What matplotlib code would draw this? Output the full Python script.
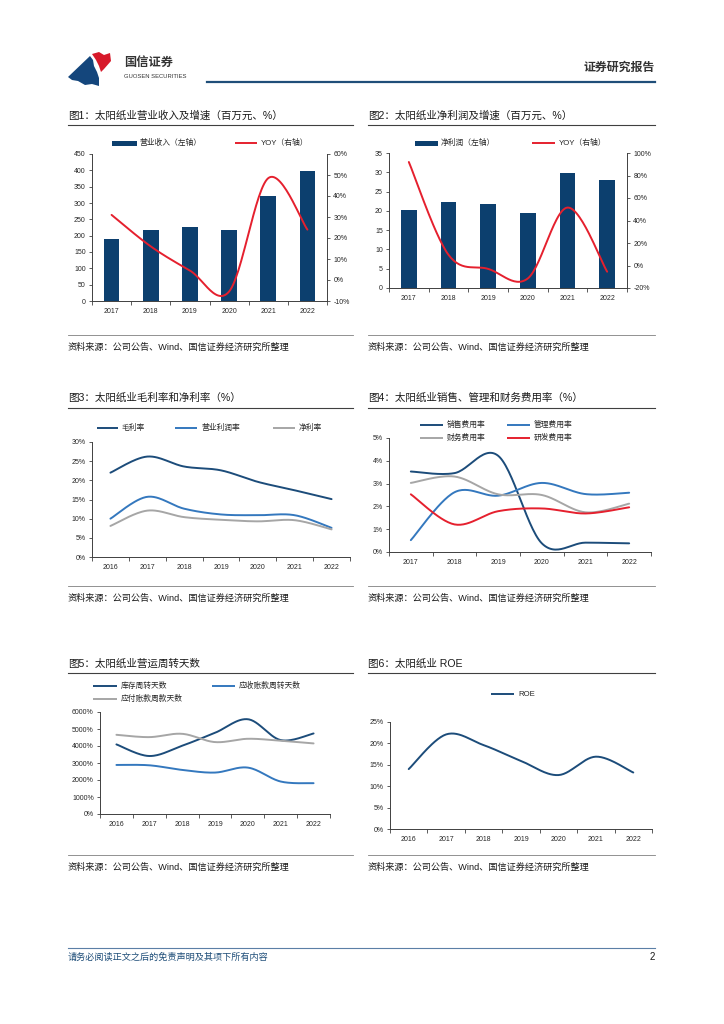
import matplotlib.pyplot as plt
import numpy as np
from matplotlib.patches import Polygon, Rectangle

plt.rcParams['font.family'] = ['Liberation Sans', 'Noto Sans CJK SC', 'DejaVu Sans']

# ---- data ----
years_6 = ['2017', '2018', '2019', '2020', '2021', '2022']
years_7 = ['2016', '2017', '2018', '2019', '2020', '2021', '2022']

revenue = [190, 218, 228, 216, 320, 398]          # 百万元
revenue_yoy = [31, 16, 4.5, -5.5, 48.5, 24]       # %
net_profit = [20.2, 22.2, 21.8, 19.4, 29.7, 28.1]
net_profit_yoy = [92, 9.5, -3, -11.5, 51.5, -5.5]

gross_margin = [22.0, 26.2, 23.6, 22.6, 19.6, 17.4, 15.1]
op_margin = [10.0, 15.7, 12.6, 11.1, 10.9, 10.9, 7.6]
net_margin = [8.1, 12.1, 10.4, 9.7, 9.3, 9.6, 7.2]

sales_exp = [3.53, 3.46, 4.22, 0.38, 0.41, 0.38]
admin_exp = [0.52, 2.62, 2.47, 3.03, 2.54, 2.60]
fin_exp = [3.03, 3.31, 2.53, 2.50, 1.74, 2.12]
rd_exp = [2.53, 1.21, 1.79, 1.91, 1.69, 1.96]

inventory_days = [4094, 3411, 4016, 4776, 5575, 4347, 4737]
receivable_days = [2885, 2865, 2593, 2437, 2729, 1910, 1813]
payable_days = [4659, 4522, 4717, 4230, 4425, 4308, 4152]

roe = [14.0, 22.1, 19.6, 15.9, 12.6, 16.9, 13.2]

SOURCE = '资料来源：公司公告、Wind、国信证券经济研究所整理'

# colours
NAVY = '#1C4C7A'
BLUE = '#3478BE'
GRAY = '#A6A6A6'
RED = '#E5202E'
BAR = '#0C3F6E'
TXT = '#262626'
AX = '#404040'

W, H = 724, 1024
fig = plt.figure(figsize=(W / 100, H / 100), dpi=100, facecolor='white')


def place(l, t, r, b):
    return fig.add_axes([l / W, 1 - b / H, (r - l) / W, (b - t) / H])


def smooth(y, n=30):
    # Excel-like smoothed line (bezier through the points)
    y = np.asarray(y, float)
    x = np.arange(len(y), dtype=float)
    xs, ys = [], []
    t = np.linspace(0, 1, n)
    for i in range(len(y) - 1):
        i0 = max(i - 1, 0)
        i3 = min(i + 2, len(y) - 1)
        p0, p1, p2, p3 = [np.array([x[k], y[k]]) for k in (i0, i, i + 1, i3)]
        c1 = p1 + (p2 - p0) / 6
        c2 = p2 - (p3 - p1) / 6
        pts = ((1 - t) ** 3)[:, None] * p1 + (3 * (1 - t) ** 2 * t)[:, None] * c1 \
            + (3 * (1 - t) * t ** 2)[:, None] * c2 + (t ** 3)[:, None] * p2
        xs.extend(pts[:, 0])
        ys.extend(pts[:, 1])
    return np.array(xs), np.array(ys)


def style(ax, labels, ylim, yticks, fmt):
    n = len(labels)
    ax.set_facecolor('none')
    ax.set_xlim(-0.5, n - 0.5)
    ax.set_xticks(range(n))
    ax.set_xticklabels(labels)
    ax.set_xticks(np.arange(-0.5, n), minor=True)
    ax.tick_params(axis='x', which='major', length=0, pad=5, labelsize=5, labelcolor=TXT)
    ax.tick_params(axis='x', which='minor', length=3, width=0.6, color=AX)
    ax.set_ylim(*ylim)
    ax.set_yticks(yticks)
    ax.set_yticklabels([fmt.format(v) for v in yticks])
    ax.tick_params(axis='y', length=2.5, width=0.6, pad=2, labelsize=5,
                   color=AX, labelcolor=TXT)
    for s in ['top', 'right']:
        ax.spines[s].set_visible(False)
    for s in ['left', 'bottom']:
        ax.spines[s].set_linewidth(0.7)
        ax.spines[s].set_color(AX)


def right_axis(ax, ylim, yticks, fmt):
    axr = ax.twinx()
    axr.set_facecolor('none')
    axr.set_ylim(*ylim)
    axr.set_yticks(yticks)
    axr.set_yticklabels([fmt.format(v) for v in yticks])
    axr.tick_params(axis='y', length=2.5, width=0.6, pad=2, labelsize=5,
                    color=AX, labelcolor=TXT)
    for s in ['top', 'left', 'bottom']:
        axr.spines[s].set_visible(False)
    axr.spines['right'].set_linewidth(0.7)
    axr.spines['right'].set_color(AX)
    return axr


def curve(ax, y, color):
    sx, sy = smooth(y)
    ax.plot(sx, sy, color=color, lw=1.4, solid_capstyle='round')


# ---- 图1 ----
ax1 = place(92, 154, 327, 301)
style(ax1, years_6, (0, 450), range(0, 451, 50), '{}')
ax1.bar(range(len(revenue)), revenue, width=0.4, color=BAR)
ax1r = right_axis(ax1, (-10, 60), range(-10, 61, 10), '{}%')
curve(ax1r, revenue_yoy, RED)

# ---- 图2 ----
ax2 = place(389, 153, 627, 288)
style(ax2, years_6, (0, 35), range(0, 36, 5), '{}')
ax2.bar(range(len(net_profit)), net_profit, width=0.4, color=BAR)
ax2r = right_axis(ax2, (-20, 100), range(-20, 101, 20), '{}%')
curve(ax2r, net_profit_yoy, RED)

# ---- 图3 ----
ax3 = place(92, 442, 350, 557)
style(ax3, years_7, (0, 30), range(0, 31, 5), '{}%')
curve(ax3, gross_margin, NAVY)
curve(ax3, op_margin, BLUE)
curve(ax3, net_margin, GRAY)

# ---- 图4 ----
ax4 = place(389, 438, 651, 552)
style(ax4, years_6, (0, 5), range(0, 6), '{}%')
curve(ax4, sales_exp, NAVY)
curve(ax4, admin_exp, BLUE)
curve(ax4, fin_exp, GRAY)
curve(ax4, rd_exp, RED)

# ---- 图5 ----
ax5 = place(100, 712, 330, 814)
style(ax5, years_7, (0, 6000), range(0, 6001, 1000), '{}%')
curve(ax5, inventory_days, NAVY)
curve(ax5, receivable_days, BLUE)
curve(ax5, payable_days, GRAY)

# ---- 图6 ----
ax6 = place(390, 722, 652, 829)
style(ax6, years_7, (0, 25), range(0, 26, 5), '{}%')
curve(ax6, roe, NAVY)

# ---- page furniture (pixel coordinates) ----
page = fig.add_axes([0, 0, 1, 1], zorder=10)
page.set_xlim(0, W)
page.set_ylim(H, 0)
page.axis('off')


def leg_line(x0, x1, y, color, label):
    page.plot([x0, x1], [y, y], color=color, lw=1.4, solid_capstyle='butt')
    page.text(x1 + 4, y, label, fontsize=5.6, va='center', ha='left', color=TXT)


def leg_patch(x0, x1, y, color, label):
    page.add_patch(Rectangle((x0, y - 2.5), x1 - x0, 5, color=color, lw=0))
    page.text(x1 + 3, y, label, fontsize=5.6, va='center', ha='left', color=TXT)


# header logo
page.add_patch(Polygon([(68, 77), (90, 56), (93, 60), (94, 66), (97, 72), (99, 78),
                        (99, 86), (92, 84), (85, 85), (78, 81), (72, 80)],
                       color='#14467C', lw=0))
page.add_patch(Polygon([(92, 54), (99, 52), (104, 55), (110, 53), (111, 61), (104, 69),
                        (101, 72), (99, 66), (96, 60)], color='#D7192A', lw=0))
page.text(124, 63, '国信证券', fontsize=8.8, fontweight='bold', va='center', ha='left', color='#333333')
page.text(124, 77, 'GUOSEN SECURITIES', fontsize=4.2, va='center', ha='left', color='#333333')
page.text(655, 68, '证券研究报告', fontsize=8.6, fontweight='bold', va='center', ha='right', color='#333333')
page.plot([207, 655], [82, 82], color='#1F4E79', lw=1.6)

# titles, rules and sources
rows = [(116, 125, 335, 347), (398, 408, 586, 598), (664, 673, 855, 867)]
titles = [('图1：太阳纸业营业收入及增速（百万元、%）', '图2：太阳纸业净利润及增速（百万元、%）'),
          ('图3：太阳纸业毛利率和净利率（%）', '图4：太阳纸业销售、管理和财务费用率（%）'),
          ('图5：太阳纸业营运周转天数', '图6：太阳纸业 ROE')]
for (ty, uy, sy, srcy), (tl, tr) in zip(rows, titles):
    for x0, x1, txt in [(68, 353, tl), (368, 655, tr)]:
        page.text(x0, ty, txt, fontsize=7.6, va='center', ha='left', color='#1a1a1a')
        page.plot([x0, x1], [uy, uy], color=AX, lw=0.8)
        page.plot([x0, x1], [sy, sy], color='#808080', lw=0.6)
        page.text(x0, srcy, SOURCE, fontsize=6.6, va='center', ha='left', color='#1a1a1a')

# legends
leg_patch(112, 137, 143, BAR, '营业收入（左轴）')
leg_line(235, 257, 143, RED, 'YOY（右轴）')
leg_patch(415, 438, 143, BAR, '净利润（左轴）')
leg_line(532, 555, 143, RED, 'YOY（右轴）')

leg_line(97, 118, 428, NAVY, '毛利率')
leg_line(175, 197, 428, BLUE, '营业利润率')
leg_line(273, 295, 428, GRAY, '净利率')

leg_line(420, 443, 425, NAVY, '销售费用率')
leg_line(507, 530, 425, BLUE, '管理费用率')
leg_line(420, 443, 438, GRAY, '财务费用率')
leg_line(507, 530, 438, RED, '研发费用率')

leg_line(93, 117, 686, NAVY, '库存周转天数')
leg_line(212, 235, 686, BLUE, '应收账款周转天数')
leg_line(93, 117, 699, GRAY, '应付账款周款天数')

leg_line(491, 514, 694, NAVY, 'ROE')

# footer
page.plot([68, 655], [948, 948], color='#5B7FA6', lw=0.8)
page.text(68, 957, '请务必阅读正文之后的免责声明及其项下所有内容', fontsize=6.6,
          va='center', ha='left', color='#1F4E79', style='italic')
page.text(655, 957, '2', fontsize=7, va='center', ha='right', color='#1a1a1a')

fig.savefig('out.png', dpi=100, facecolor='white')
